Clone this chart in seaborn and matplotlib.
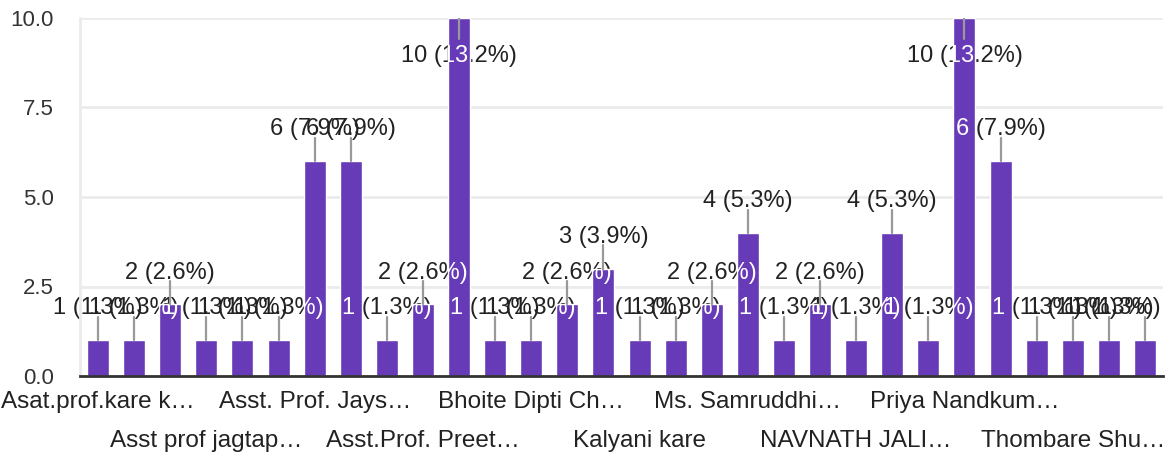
import matplotlib
matplotlib.use("Agg")
import matplotlib.pyplot as plt
import seaborn as sns

# responses per person (30 bars, left to right)
counts = [1, 1, 2, 1, 1, 1, 6, 6, 1, 2,
          10, 1, 1, 2, 3, 1, 1, 2, 4, 1,
          2, 1, 4, 1, 10, 6, 1, 1, 1, 1]
# only every third category name is shown on the axis
names = ["Asat.prof.kare k…", "Asst prof jagtap…", "Asst. Prof. Jays…",
         "Asst.Prof. Preet…", "Bhoite Dipti Ch…", "Kalyani kare",
         "Ms. Samruddhi…", "NAVNATH JALI…", "Priya Nandkum…",
         "Thombare Shu…"]
yticks = [0, 2.5, 5, 7.5, 10]

PURPLE = "#673ab7"
GRID = "#ebebeb"


def main():
    sns.set_theme(style="white")
    plt.rcParams['font.family'] = ['Liberation Sans', 'DejaVu Sans']

    fig = plt.figure(figsize=(11.65, 4.53), dpi=100)
    ax = fig.add_axes([80 / 1165, 77 / 453, 1083 / 1165, 358 / 453])

    pos = list(range(len(counts)))
    sns.barplot(x=pos, y=counts, color=PURPLE, saturation=1, width=0.61,
                ax=ax, zorder=3)

    ax.set_xlim(-0.5, len(counts) - 0.5)
    ax.set_ylim(0, 10)
    ax.set_yticks(yticks)
    ax.set_yticklabels([f"{t:.1f}" for t in yticks], fontsize=16, color="#333")
    ax.tick_params(axis="y", length=0, pad=19)
    ax.yaxis.grid(True, color=GRID, lw=2, zorder=0)
    ax.set_axisbelow(True)

    ax.set_xticks(range(0, len(counts), 3))
    ax.set_xticklabels(names, fontsize=17.5, color="#222")
    ax.tick_params(axis="x", length=0)
    for k, tick in enumerate(ax.xaxis.get_major_ticks()):
        tick.set_pad(11 if k % 2 == 0 else 39)
    ax.set_xlabel("")
    ax.set_ylabel("")

    for s in ["top", "right"]:
        ax.spines[s].set_visible(False)
    ax.spines["left"].set_color(GRID)
    ax.spines["left"].set_linewidth(2)
    ax.spines["bottom"].set_color("#333")
    ax.spines["bottom"].set_linewidth(2)
    ax.spines["bottom"].set_zorder(6)

    # value labels with leader lines; text inside a bar turns white
    total = sum(counts)
    bars = ax.patches
    top = ax.get_ylim()[1]
    groups = []
    for i, v in enumerate(counts):
        label = f"{v} ({v / total * 100:.1f}%)"
        if v + 1.4 > top:
            y0, y1, ty, va = top, top - 0.6, top - 0.75, "top"
        else:
            y0, y1, ty, va = v, v + 0.65, v + 0.58, "bottom"
        ax.plot([i, i], [y0, y1], color="#999", lw=1.6, zorder=5)
        grp = [ax.text(i, ty, label, ha="center", va=va, fontsize=17,
                       color="#222", zorder=2, clip_on=False)]
        for j in range(max(0, i - 4), min(len(bars), i + 5)):
            t = ax.text(i, ty, label, ha="center", va=va, fontsize=17,
                        color="white", zorder=4, clip_on=True)
            t.set_clip_path(bars[j])
            grp.append(t)
        groups.append((i, grp))

    # keep labels inside the figure at the right edge
    fig.canvas.draw()
    renderer = fig.canvas.get_renderer()
    right = fig.bbox.x1 - 4
    for i, grp in groups:
        bb = grp[0].get_window_extent(renderer)
        if bb.x1 > right:
            shift = (bb.x1 - right)
            x_disp = ax.transData.transform((i, 0))[0] - shift
            x_new = ax.transData.inverted().transform((x_disp, 0))[0]
            for t in grp:
                t.set_x(x_new)

    fig.savefig("out.png", dpi=100)


if __name__ == "__main__":
    main()
